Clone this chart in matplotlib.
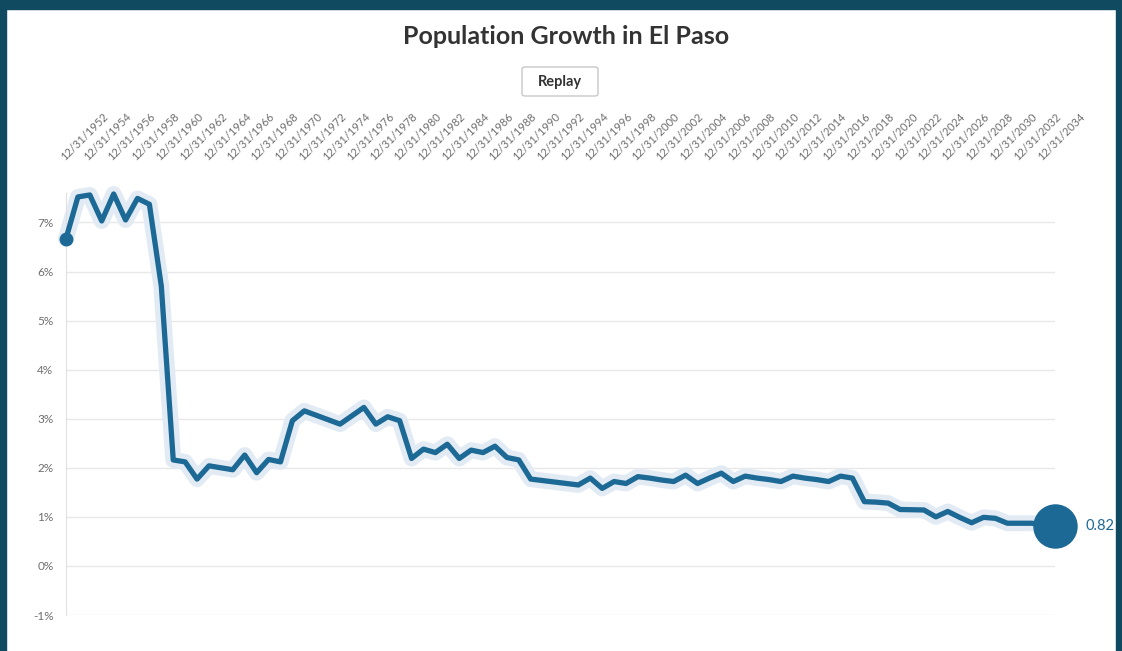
import matplotlib
matplotlib.use("Agg")
import matplotlib.pyplot as plt
import matplotlib.dates as mdates
from matplotlib.patches import Rectangle, FancyBboxPatch
from matplotlib.ticker import FuncFormatter
import datetime as dt

plt.rcParams['font.family'] = ['Lato', 'DejaVu Sans']

# annual growth rate (%), dated 12/31 of each year
years = list(range(1952, 2036))
growth = [
    6.67, 7.52, 7.56, 7.03, 7.58, 7.05, 7.49, 7.37, 5.70, 2.16,
    2.12, 1.77, 2.04, 2.00, 1.96, 2.26, 1.90, 2.17, 2.12, 2.96,
    3.16, 3.07, 2.98, 2.89, 3.06, 3.23, 2.89, 3.04, 2.96, 2.19,
    2.38, 2.31, 2.48, 2.19, 2.36, 2.31, 2.44, 2.21, 2.16, 1.77,
    1.74, 1.71, 1.68, 1.65, 1.79, 1.58, 1.72, 1.68, 1.82, 1.79,
    1.75, 1.72, 1.85, 1.68, 1.79, 1.89, 1.72, 1.83, 1.79, 1.76,
    1.72, 1.83, 1.79, 1.76, 1.72, 1.83, 1.79, 1.31, 1.30, 1.28,
    1.15, 1.145, 1.14, 1.00, 1.11, 0.99, 0.88, 0.99, 0.97, 0.87,
    0.87, 0.87, 0.85, 0.82,
]
tick_years = list(range(1952, 2035, 2))
y_ticks = list(range(-1, 8))

dates = [dt.date(y, 12, 31) for y in years]
tick_dates = [dt.date(y, 12, 31) for y in tick_years]

BLUE = '#1d6996'
HALO = '#e2ebf4'
GREY = '#6e6e6e'

fig = plt.figure(figsize=(11.22, 6.51), dpi=100)
W, H = 1122, 651

# dark frame
frame = '#0f4a60'
fig.patches.append(Rectangle((0, 1 - 9 / H), 1, 9 / H, transform=fig.transFigure, color=frame, zorder=0))
fig.patches.append(Rectangle((0, 0), 6 / W, 1, transform=fig.transFigure, color=frame, zorder=0))
fig.patches.append(Rectangle((1 - 6 / W, 0), 6 / W, 1, transform=fig.transFigure, color=frame, zorder=0))

# title and replay button
fig.text(566 / W, 1 - 37 / H, 'Population Growth in El Paso', ha='center', va='center',
         fontsize=18, fontweight='bold', color='#333333')
fig.patches.append(FancyBboxPatch((522 / W, 1 - 96 / H), 76 / W, 29 / H,
                                  boxstyle='round,pad=0,rounding_size=0.003',
                                  transform=fig.transFigure, facecolor='white',
                                  edgecolor='#c8c8c8', linewidth=1))
fig.text(560 / W, 1 - 82 / H, 'Replay', ha='center', va='center',
         fontsize=10.5, fontweight='bold', color='#333333')

ax = fig.add_axes([66 / W, 36 / H, (1055 - 66) / W, (615 - 193) / H])
ax.set_xlim(dates[0], dates[-1])
ax.set_ylim(-1, 7.6)

ax.plot(dates, growth, color=HALO, lw=11.5, solid_joinstyle='round', solid_capstyle='round',
        zorder=2, clip_on=False)
ax.plot(dates, growth, color=BLUE, lw=3.8, solid_joinstyle='round', zorder=3, clip_on=False)
ax.plot(dates[0], growth[0], 'o', color=BLUE, ms=9, zorder=4, clip_on=False)
ax.plot(dates[-1], growth[-1], 'o', color=BLUE, ms=31, zorder=5, clip_on=False)
ax.annotate(f'{growth[-1]:.2f}', (dates[-1], growth[-1]), xytext=(22, 0),
            textcoords='offset points', ha='left', va='center', fontsize=10.5, color=BLUE)

ax.set_yticks(y_ticks)
ax.yaxis.set_major_formatter(FuncFormatter(lambda v, p: f'{v:.0f}%'))
ax.grid(axis='y', color='#e8e8e8', lw=1)
ax.set_axisbelow(True)

ax.set_xticks(tick_dates)
ax.xaxis.set_major_formatter(mdates.DateFormatter('%m/%d/%Y'))
ax.tick_params(axis='x', top=True, labeltop=True, bottom=False, labelbottom=False,
               length=0, pad=22, labelsize=8, labelcolor=GREY)
for lab in ax.get_xticklabels():
    lab.set_rotation(45)
    lab.set_rotation_mode('anchor')
    lab.set_ha('left')
    lab.set_va('bottom')
ax.tick_params(axis='y', length=0, pad=9, labelsize=8.5, labelcolor=GREY)

for s in ['top', 'right', 'bottom']:
    ax.spines[s].set_visible(False)
ax.spines['left'].set_color('#e0e0e0')

fig.savefig('out.png', dpi=100)
